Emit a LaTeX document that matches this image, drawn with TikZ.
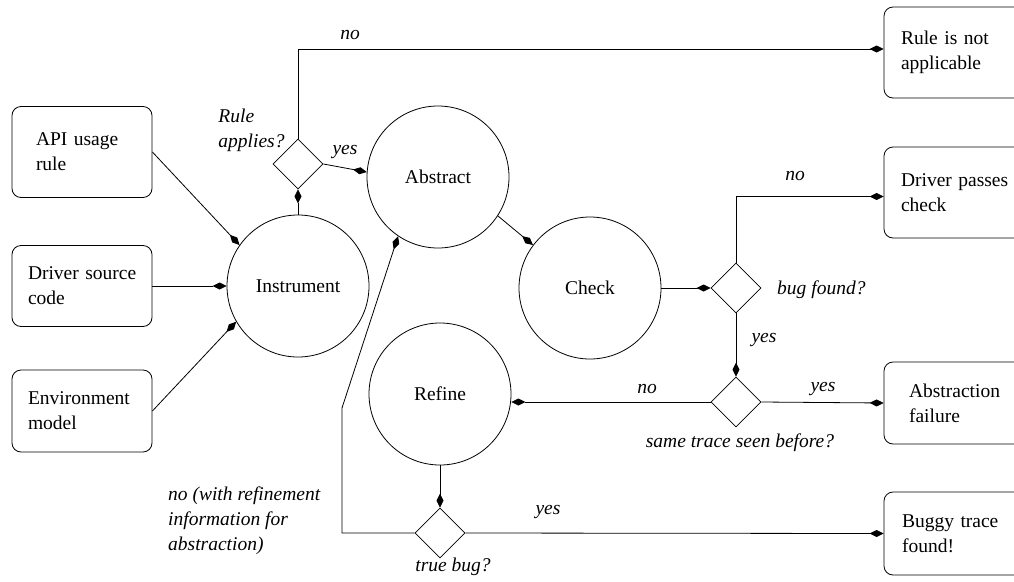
\documentclass[tikz,border=0pt]{standalone}
\usepackage{fontspec}
\setmainfont{Liberation Serif}
\usetikzlibrary{shapes.geometric,arrows.meta}
\begin{document}
\begin{tikzpicture}[x=1pt,y=-1pt,
  font=\fontsize{19.5}{25}\selectfont,
  box/.style={draw,rounded corners=9pt,align=left,inner ysep=0pt,line width=0.8pt},
  pad/.style={inner xsep=#1,text width=140pt-2*#1},
  proc/.style={draw,circle,minimum size=142pt,inner sep=0pt,line width=0.8pt},
  dec/.style={draw,diamond,aspect=1,minimum size=50pt,inner sep=0pt,line width=0.8pt},
  lab/.style={font=\fontsize{19.5}{25}\selectfont\itshape,align=left,inner sep=0pt},
  arr/.style={line width=0.8pt,-{Diamond[length=14pt,width=7pt]}}]
\useasboundingbox (0,0) rectangle (1014,581);
\clip (0,0) rectangle (1014,581);

% input boxes
\node[box,pad=24pt,minimum height=91pt] (api) at (82,152) {API~usage\\rule};
\node[box,pad=16pt,minimum height=81pt] (drv) at (82,286) {Driver~source\\code};
\node[box,pad=16pt,minimum height=82pt] (env) at (82,411) {Environment\\model};
% output boxes
\node[box,pad=17pt,minimum height=91pt] (r1) at (954,52.5) {Rule~is~not\\applicable};
\node[box,pad=17pt,minimum height=91pt] (r2) at (954,192.5) {Driver~passes\\check};
\node[box,pad=25pt,minimum height=82pt] (r3) at (954,403) {Abstraction\\failure};
\node[box,pad=18pt,minimum height=83pt] (r4) at (954,533.5) {Buggy~trace\\found!};
% processes
\node[proc] (inst) at (298,286) {Instrument};
\node[proc] (abs) at (438,177) {Abstract};
\node[proc] (check) at (590,288) {Check};
\node[proc] (refine) at (440,394) {Refine};
% decisions
\node[dec] (d1) at (298,164) {};
\node[dec] (d2) at (736,288) {};
\node[dec] (d3) at (736,402) {};
\node[dec] (d4) at (440,533) {};

% labels
\node[lab] (lrule) at (251.5,130) {Rule\\applies?};
\node[lab] (lyes1) at (345,152) {yes};
\node[lab] (lno1) at (350,35) {no};
\node[lab] (lno2) at (795,176) {no};
\node[lab,anchor=west] (lbug) at (777,290) {bug found?};
\node[lab] (lyes2) at (764,340) {yes};
\node[lab] (lno3) at (647,389) {no};
\node[lab] (lyes3) at (823,389) {yes};
\node[lab] (lsame) at (740,443) {same trace seen before?};
\node[lab] (lyes4) at (548,512) {yes};
\node[lab] (ltrue) at (453,567) {true bug?};
\node[lab,anchor=west] (lnoref) at (168,521) {no (with refinement\\information for\\abstraction)};

% connectors
\draw[arr] (api.east) -- (inst.145);
\draw[arr] (drv.east) -- (inst.west);
\draw[arr] (env.east) -- (inst.210);
\draw[arr] (inst.north) -- (d1.south);
\draw[arr] (d1.east) -- (abs.176);
\draw[arr] (d1.north) |- ([yshift=3.5pt]r1.west);
\draw[arr] (abs.-33) -- (check.143);
\draw[arr] (check.east) -- (d2.west);
\draw[arr] (d2.north) |- ([yshift=-4pt]r2.west);
\draw[arr] (d2.south) -- (d3.north);
\draw[arr] (d3.west) -- (d3.west -| refine.east);
\draw[arr] (d3.east) -- (r3.west);
\draw[arr] (refine.south) -- (d4.north);
\draw[arr] (d4.east) -- (r4.west);
\coordinate (c1) at (342,408);
\draw[arr] (d4.west) -| (c1) -- (abs.236);
\end{tikzpicture}
\end{document}
